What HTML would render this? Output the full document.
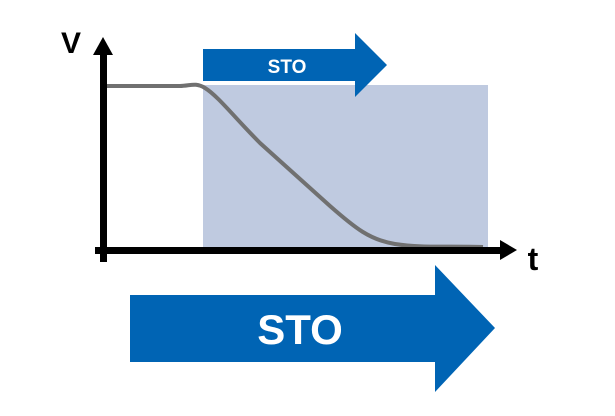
<!DOCTYPE html>
<html><head><style>
html,body{margin:0;padding:0;background:#fff;width:615px;height:416px;overflow:hidden}
</style></head><body>
<svg width="615" height="416" viewBox="0 0 615 416" xmlns="http://www.w3.org/2000/svg">
<rect x="203" y="85" width="285" height="162" fill="#bfcae0"/>
<polygon points="203,49 355,49 355,33 387,65 355,97 355,81 203,81" fill="#0064b4"/>
<text x="287" y="73" font-family="Liberation Sans, sans-serif" font-weight="bold" font-size="19" fill="#fff" text-anchor="middle">STO</text>
<path d="M107,86 L180,86 C190,86 195,82 205,88 C218,96 235,118 260,143 L330,206 C355,228 370,240 395,244 C420,248 450,246 483,247" fill="none" stroke="#707070" stroke-width="4"/>
<rect x="100" y="50" width="7" height="212" fill="#000"/>
<polygon points="103,37 113,55 93,55" fill="#000"/>
<rect x="95" y="247" width="408" height="7" fill="#000"/>
<polygon points="517,250 500,240 500,260" fill="#000"/>
<text x="71" y="53" font-family="Liberation Sans, sans-serif" font-weight="bold" font-size="30" fill="#000" text-anchor="middle">V</text>
<text x="533" y="270" font-family="Liberation Sans, sans-serif" font-weight="bold" font-size="32" fill="#000" text-anchor="middle">t</text>
<polygon points="130,295 435,295 435,265 495,328 435,392 435,362 130,362" fill="#0064b4"/>
<text x="300" y="344" font-family="Liberation Sans, sans-serif" font-weight="bold" font-size="42" fill="#fff" text-anchor="middle">STO</text>
</svg>
</body></html>
